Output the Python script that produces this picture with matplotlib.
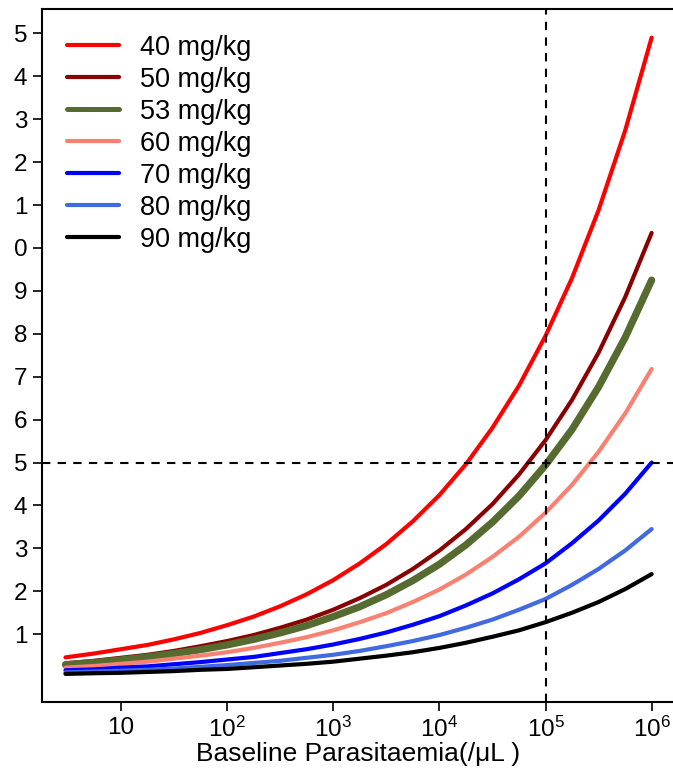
import matplotlib
matplotlib.use('Agg')
import matplotlib.pyplot as plt

plt.rcParams['font.family'] = ['Liberation Sans', 'DejaVu Sans']
plt.rcParams['mathtext.default'] = 'regular'

# parasitaemia (/uL) read every quarter decade from 3 up to 1e6
parasitaemia = [3, 5.6, 10, 17.8, 31.6, 56.2, 100, 178, 316, 562, 1000, 1778, 3162,
                5623, 10000, 17783, 31623, 56234, 100000, 177828, 316228, 562341, 1000000]

doses = ['40 mg/kg', '50 mg/kg', '53 mg/kg', '60 mg/kg', '70 mg/kg', '80 mg/kg', '90 mg/kg']
colours = ['#FF0000', '#8B0000', '#556B2F', '#FA8072', '#0000FF', '#4169E1', '#000000']
widths = [3.0, 3.0, 5.2, 3.0, 3.0, 3.0, 3.0]

dose40 = [0.46, 0.55, 0.65, 0.75, 0.88, 1.03, 1.21, 1.41, 1.65, 1.93, 2.26, 2.65, 3.10,
          3.63, 4.24, 4.96, 5.81, 6.79, 7.95, 9.30, 10.88, 12.73, 14.9]
dose50 = [0.32, 0.38, 0.45, 0.52, 0.61, 0.72, 0.84, 0.98, 1.15, 1.34, 1.57, 1.84, 2.15,
          2.52, 2.95, 3.45, 4.03, 4.72, 5.52, 6.46, 7.56, 8.85, 10.35]
dose53 = [0.29, 0.34, 0.40, 0.47, 0.55, 0.64, 0.75, 0.88, 1.03, 1.20, 1.41, 1.64, 1.92,
          2.25, 2.63, 3.08, 3.61, 4.22, 4.94, 5.77, 6.76, 7.91, 9.25]
dose60 = [0.22, 0.26, 0.31, 0.36, 0.43, 0.50, 0.58, 0.68, 0.80, 0.93, 1.09, 1.28, 1.49,
          1.75, 2.04, 2.39, 2.80, 3.27, 3.83, 4.48, 5.25, 6.14, 7.18]
dose70 = [0.16, 0.18, 0.22, 0.25, 0.30, 0.35, 0.41, 0.47, 0.56, 0.65, 0.76, 0.89, 1.04,
          1.22, 1.42, 1.67, 1.95, 2.28, 2.65, 3.12, 3.65, 4.27, 5.0]
dose80 = [0.11, 0.13, 0.15, 0.17, 0.20, 0.24, 0.28, 0.33, 0.38, 0.45, 0.52, 0.61, 0.72,
          0.84, 0.98, 1.15, 1.34, 1.57, 1.82, 2.15, 2.52, 2.95, 3.45]
dose90 = [0.075, 0.09, 0.10, 0.12, 0.14, 0.17, 0.19, 0.23, 0.27, 0.31, 0.36, 0.43, 0.50,
          0.58, 0.68, 0.80, 0.94, 1.09, 1.28, 1.50, 1.75, 2.05, 2.40]
series = [dose40, dose50, dose53, dose60, dose70, dose80, dose90]

yticks = list(range(1, 16))
ylabels = ['1', '2', '3', '4', '5', '6', '7', '8', '9', '0', '1', '2', '3', '4', '5']
xticks = [10, 100, 1000, 10000, 100000, 1000000]
xlabels = ['10', '$10^2$', '$10^3$', '$10^4$', '$10^5$', '$10^6$']

fig = plt.figure(figsize=(6.73, 7.7), dpi=100)
ax = fig.add_axes([42 / 673, 68 / 770, 633 / 673, 692.7 / 770])

for vals, name, c, w in zip(series, doses, colours, widths):
    ax.plot(parasitaemia, vals, color=c, lw=w, label=name, solid_capstyle='round')

ax.axhline(5, color='black', lw=1.5, dashes=(4, 3.5))
ax.axvline(1e5, color='black', lw=1.5, dashes=(4, 3.5))

ax.set_xscale('log')
ax.set_xlim(10 ** 0.256, 10 ** 6.22)
ax.set_ylim(-0.58, 15.56)
ax.set_xticks(xticks)
ax.set_xticklabels(xlabels)
ax.minorticks_off()
ax.set_yticks(yticks)
ax.set_yticklabels(ylabels)
ax.tick_params(labelsize=17.5, length=6.5, width=1.2, pad=4)

for s in ax.spines.values():
    s.set_linewidth(1.5)

ax.set_xlabel('Baseline Parasitaemia(/\u03bcL )', fontsize=19, labelpad=0)

leg = ax.legend(loc='upper left', bbox_to_anchor=(0.039, 0.963), frameon=False,
                fontsize=19.5, handlelength=1.95, handletextpad=0.77, labelspacing=0.22,
                borderpad=0, borderaxespad=0)
# legend keys are drawn thinner than the curves
for line, w in zip(leg.get_lines(), widths):
    line.set_linewidth(3.6 if w > 4 else 3.0)

plt.savefig('out.png', dpi=100)
